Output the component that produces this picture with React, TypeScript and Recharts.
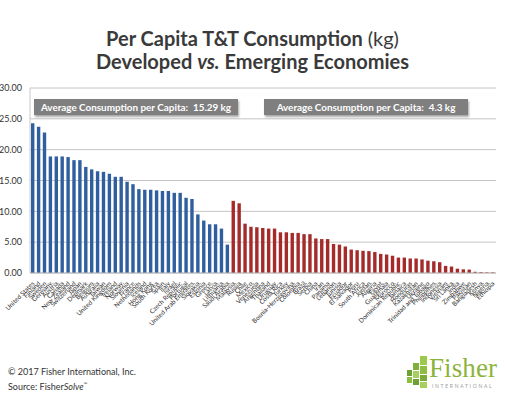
import { BarChart, Bar, XAxis, YAxis, CartesianGrid, Cell } from 'recharts'

// developed economies, kg per capita
const developedNames = [
  'United States', 'Finland', 'Sweden', 'Germany', 'Austria', 'Canada', 'New Zealand', 'Switzerland',
  'Japan', 'Denmark', 'Belgium', 'Australia', 'Taiwan', 'United Kingdom', 'Ireland', 'Norway',
  'Slovenia', 'France', 'Netherlands', 'Iceland', 'Hong Kong', 'South Korea', 'Spain', 'Italy',
  'Israel', 'Czech Republic', 'Portugal', 'United Arab Emirates', 'Slovakia', 'Estonia', 'Greece',
  'Latvia', 'Lithuania', 'Saudi Arabia',
]
const developedValues = [
  24.3, 23.7, 22.8, 18.9, 18.9, 18.9, 18.8, 18.3, 18.3, 17.2, 16.8, 16.5, 16.4, 16.1, 15.6, 15.6,
  14.8, 14.4, 13.6, 13.5, 13.5, 13.4, 13.3, 13.3, 13.0, 13.0, 12.2, 12.0, 9.5, 8.5, 7.9, 7.9, 7.2, 4.6,
]

// emerging economies
const emergingNames = [
  'Malaysia', 'Russia', 'Chile', 'Mexico', 'Venezuela', 'Argentina', 'Thailand', 'Uruguay',
  'Costa Rica', 'Turkey', 'Bosnia-Herzegovina', 'Colombia', 'Brazil', 'Serbia', 'China', 'Iran',
  'Panama', 'Lebanon', 'Tunisia', 'Ecuador', 'El Salvador', 'Peru', 'South Africa', 'Jordan',
  'Algeria', 'Egypt', 'Guatemala', 'Morocco', 'Dominican Republic', 'Jamaica', 'Honduras',
  'Kazakhstan', 'Ukraine', 'Trinidad and Tobago', 'Philippines', 'Indonesia', 'Vietnam',
  'Sri Lanka', 'India', 'Zimbabwe', 'Pakistan', 'Bangladesh', 'Kenya', 'Nigeria', 'Ethiopia',
]
const emergingValues = [
  11.7, 11.3, 8.0, 7.5, 7.4, 7.3, 7.2, 7.2, 6.6, 6.6, 6.5, 6.5, 6.3, 6.3, 5.6, 5.5, 5.5, 4.7, 4.6,
  4.3, 3.8, 3.7, 3.6, 3.55, 3.4, 3.1, 3.0, 2.8, 2.5, 2.5, 2.35, 2.35, 2.2, 2.0, 1.9, 1.75, 1.15,
  1.05, 0.7, 0.6, 0.55, 0.2, 0.15, 0.1, 0.1,
]

const yTicks = [0, 5, 10, 15, 20, 25, 30]
const developedAvg = '15.29'
const emergingAvg = '4.3'

const data = [
  ...developedNames.map((name, i) => ({ name, value: developedValues[i], group: 'developed' })),
  ...emergingNames.map((name, i) => ({ name, value: emergingValues[i], group: 'emerging' })),
]

const font = 'Lato, "Open Sans", sans-serif'

function CountryTick({ x, y, payload }: any) {
  return (
    <text
      x={x + 2}
      y={y + 3}
      transform={`rotate(-45 ${x + 2} ${y + 3})`}
      textAnchor="end"
      fontSize={6.4}
      fill="#2e2e2e"
      fontFamily={font}
    >
      {payload.value}
    </text>
  )
}

function AvgBox({ left, width, text }: { left: number; width: number; text: string }) {
  return (
    <div
      style={{
        position: 'absolute',
        left,
        top: 99,
        width,
        height: 16,
        background: '#7f7f7f',
        boxShadow: '1px 2px 2px rgba(0,0,0,0.35)',
        color: '#fff',
        fontFamily: font,
        fontWeight: 700,
        fontSize: 9.9,
        lineHeight: '16px',
        textAlign: 'center',
        whiteSpace: 'pre',
      }}
    >
      {text}
    </div>
  )
}

function Logo() {
  return (
    <svg width={100} height={42} style={{ position: 'absolute', left: 405, top: 353 }}>
      <rect x={15} y={3} width={7} height={9} fill="#9cc94c" />
      <rect x={8} y={10} width={6} height={7} fill="#7fb03a" />
      <rect x={15} y={13} width={7} height={8} fill="#8dbd41" />
      <rect x={2} y={17} width={5} height={6} fill="#6ea034" />
      <rect x={8} y={18} width={6} height={7} fill="#a6cf5c" />
      <rect x={15} y={22} width={7} height={6} fill="#7aaa38" />
      <rect x={2} y={24} width={5} height={6} fill="#8dbd41" />
      <rect x={8} y={26} width={6} height={6} fill="#6ea034" />
      <rect x={15} y={29} width={7} height={6} fill="#a6cf5c" />
      <text x={24} y={24} fontFamily="'Liberation Serif', serif" fontSize={27} fill="#8cb43c" textLength={68}>
        Fisher
      </text>
      <text x={27} y={35} fontFamily={font} fontSize={5} fill="#9a9a9a" letterSpacing={1.7}>
        INTERNATIONAL
      </text>
    </svg>
  )
}

export default function App() {
  return (
    <div style={{ position: 'absolute', left: 0, top: 0, width: 505, height: 399, background: '#fff', overflow: 'hidden' }}>
      <div
        style={{
          position: 'absolute',
          top: 27,
          left: 0,
          width: 505,
          textAlign: 'center',
          fontFamily: font,
          fontSize: 20,
          lineHeight: '23px',
          color: '#3a3a3a',
          fontWeight: 700,
        }}
      >
        <div>
          Per Capita T&amp;T Consumption <span style={{ fontWeight: 400 }}>(kg)</span>
        </div>
        <div>
          Developed <i style={{ fontStyle: 'italic' }}>vs.</i> Emerging Economies
        </div>
      </div>

      <div style={{ position: 'absolute', left: 0, top: 0 }}>
        <BarChart width={505} height={399} data={data} margin={{ top: 88, right: 9, bottom: 0, left: 0 }}>
          <CartesianGrid vertical={false} stroke="#c4c4c4" />
          <XAxis
            dataKey="name"
            interval={0}
            height={126}
            tickLine={false}
            axisLine={{ stroke: '#bdbdbd' }}
            tick={<CountryTick />}
          />
          <YAxis
            width={30}
            domain={[0, 30]}
            ticks={yTicks}
            tickFormatter={(v: number) => v.toFixed(2)}
            tickLine={false}
            axisLine={{ stroke: '#c8c8c8' }}
            tick={{ fontSize: 9, fill: '#333', fontFamily: font }}
          />
          <Bar dataKey="value" barSize={3.4} isAnimationActive={false}>
            {data.map((d, i) => (
              <Cell key={i} fill={d.group === 'developed' ? '#305f9f' : '#a52b2b'} />
            ))}
          </Bar>
        </BarChart>
      </div>

      <AvgBox left={34} width={204} text={`Average Consumption per Capita:  ${developedAvg} kg`} />
      <AvgBox left={264} width={204} text={`Average Consumption per Capita:  ${emergingAvg} kg`} />

      <div style={{ position: 'absolute', left: 8, top: 366, fontFamily: font, fontSize: 9, lineHeight: '12px', color: '#333' }}>
        <div>© 2017 Fisher International, Inc.</div>
        <div>
          Source: Fisher<i>Solve</i>
          <sup style={{ fontSize: 5 }}>™</sup>
        </div>
      </div>

      <Logo />
    </div>
  )
}
